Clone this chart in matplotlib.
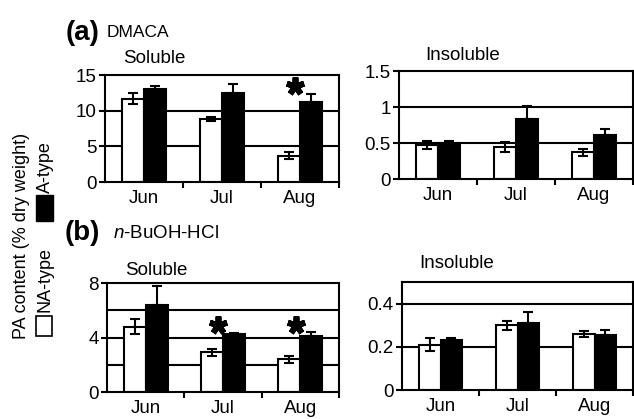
import numpy as np
import matplotlib.pyplot as plt
from matplotlib.patches import Rectangle

plt.rcParams['font.family'] = ['Liberation Sans', 'DejaVu Sans']
plt.rcParams['mathtext.fontset'] = 'custom'
plt.rcParams['mathtext.it'] = 'Liberation Sans:italic'
plt.rcParams['mathtext.rm'] = 'Liberation Sans'

months = ['Jun', 'Jul', 'Aug']

# (a) DMACA
a_sol_na = [11.7, 8.8, 3.7]
a_sol_na_err = [0.8, 0.25, 0.5]
a_sol_a = [13.0, 12.5, 11.2]
a_sol_a_err = [0.4, 1.2, 1.1]
a_ins_na = [0.47, 0.45, 0.37]
a_ins_na_err = [0.06, 0.07, 0.05]
a_ins_a = [0.50, 0.84, 0.61]
a_ins_a_err = [0.03, 0.18, 0.09]

# (b) n-BuOH-HCl
b_sol_na = [4.8, 2.9, 2.4]
b_sol_na_err = [0.55, 0.25, 0.25]
b_sol_a = [6.35, 4.25, 4.1]
b_sol_a_err = [1.45, 0.1, 0.3]
b_ins_na = [0.21, 0.30, 0.26]
b_ins_na_err = [0.03, 0.02, 0.015]
b_ins_a = [0.23, 0.31, 0.255]
b_ins_a_err = [0.01, 0.05, 0.025]

# significance marks: (month index, y)
a_sol_stars = [(2, 13.4)]
b_sol_stars = [(1, 4.9), (2, 4.9)]

W, H = 634, 419
fig = plt.figure(figsize=(W / 100, H / 100), dpi=100)


def box(x0, y0, x1, y1):
    return [x0 / W, 1 - y1 / H, (x1 - x0) / W, (y1 - y0) / H]


def fxy(x, y):
    return x / W, 1 - y / H


FS = 13.5
LW = 1.5


def panel(rect, na, na_err, a, a_err, ymax, ticks, labels, grid, stars):
    ax = fig.add_axes(rect)
    x = np.arange(len(months))
    w = 0.285
    for g in grid:
        ax.axhline(g, color='black', lw=LW, zorder=1)
    ax.bar(x - w / 2, na, w, color='white', edgecolor='black', lw=LW, zorder=2)
    ax.bar(x + w / 2, a, w, color='black', edgecolor='black', lw=LW, zorder=2)
    ax.errorbar(x - w / 2, na, yerr=na_err, fmt='none', ecolor='black',
                elinewidth=LW, capsize=3.5, capthick=LW, zorder=3)
    ax.errorbar(x + w / 2, a, yerr=[np.zeros(len(a)), a_err], fmt='none',
                ecolor='black', elinewidth=LW, capsize=3.5, capthick=LW, zorder=3)
    for i, yv in stars:
        ax.plot(i - 0.06, yv, marker=(5, 2, 0), ms=13, mew=4.2,
                color='black', zorder=4, clip_on=False)
    ax.set_xlim(-0.5, 2.5)
    ax.set_ylim(0, ymax)
    ax.set_yticks(ticks)
    ax.set_yticklabels(labels)
    ax.set_xticks([0.5, 1.5, 2.5])
    ax.set_xticklabels([])
    ax.set_xticks(x, minor=True)
    ax.set_xticklabels(months, minor=True)
    ax.tick_params(axis='x', which='minor', length=0, pad=6, labelsize=FS)
    ax.tick_params(axis='x', which='major', direction='out', length=4, width=LW)
    ax.tick_params(axis='y', direction='out', length=4, width=LW, pad=2,
                   labelsize=FS)
    for s in ax.spines.values():
        s.set_linewidth(LW)
    return ax


panel(box(105, 75, 339, 182), a_sol_na, a_sol_na_err, a_sol_a, a_sol_a_err,
      15, [0, 5, 10, 15], ['0', '5', '10', '15'], [5, 10], a_sol_stars)
panel(box(399, 71, 633, 179), a_ins_na, a_ins_na_err, a_ins_a, a_ins_a_err,
      1.5, [0, 0.5, 1, 1.5], ['0', '0.5', '1', '1.5'], [0.5, 1], [])
panel(box(107, 283, 339, 392), b_sol_na, b_sol_na_err, b_sol_a, b_sol_a_err,
      8, [0, 4, 8], ['0', '4', '8'], [2, 4, 6], b_sol_stars)
panel(box(402, 282, 633, 390), b_ins_na, b_ins_na_err, b_ins_a, b_ins_a_err,
      0.5, [0, 0.2, 0.4], ['0', '0.2', '0.4'], [0.2, 0.4], [])

# panel headings
fig.text(*fxy(66, 40), '(a)', fontsize=20, fontweight='bold', va='baseline')
fig.text(*fxy(107, 37), 'DMACA', fontsize=12.5, va='baseline')
fig.text(*fxy(65, 240), '(b)', fontsize=20, fontweight='bold', va='baseline')
fig.text(*fxy(113, 238), r'$\mathit{n}$-BuOH-HCl', fontsize=13.5, va='baseline')
fig.text(*fxy(123, 63), 'Soluble', fontsize=FS, va='baseline')
fig.text(*fxy(425, 60), 'Insoluble', fontsize=FS, va='baseline')
fig.text(*fxy(125, 275), 'Soluble', fontsize=FS, va='baseline')
fig.text(*fxy(419, 268), 'Insoluble', fontsize=FS, va='baseline')

# y label and legend
fig.text(*fxy(22, 236), 'PA content (% dry weight)', fontsize=13, rotation=90,
         ha='center', va='center')
fig.text(*fxy(45, 279), 'NA-type', fontsize=13, rotation=90,
         ha='center', va='center')
fig.text(*fxy(45, 167), 'A-type', fontsize=13, rotation=90,
         ha='center', va='center')
fig.patches.append(Rectangle(fxy(36, 336), 16 / W, 20 / H, transform=fig.transFigure,
                             facecolor='white', edgecolor='black', lw=1.2))
fig.patches.append(Rectangle(fxy(36, 221), 17 / W, 26 / H, transform=fig.transFigure,
                             facecolor='black', edgecolor='black', lw=1))

fig.savefig('out.png', dpi=100)
